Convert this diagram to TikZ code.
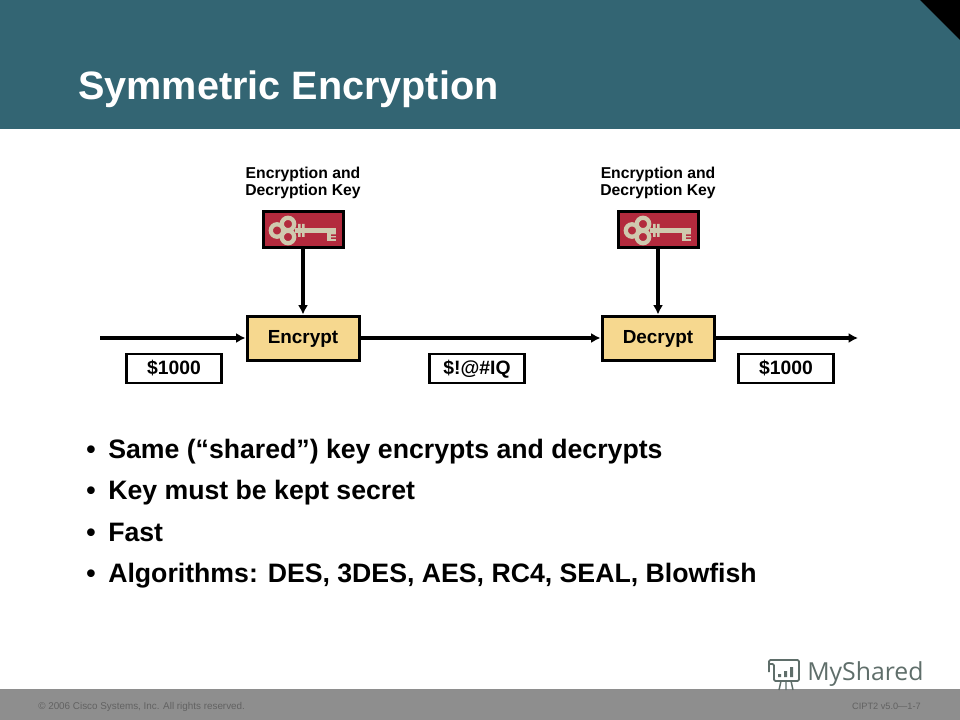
\documentclass[tikz,border=0pt]{standalone}
\usepackage{fontspec}
\setmainfont{Liberation Sans}
\newfontfamily\logofont{Open Sans}
\usetikzlibrary{arrows.meta}
\definecolor{headerteal}{HTML}{336573}
\definecolor{footergray}{HTML}{8E8E8E}
\definecolor{footertext}{HTML}{626262}
\definecolor{keyred}{HTML}{B32A3D}
\definecolor{keytan}{HTML}{CFC9AE}
\definecolor{boxtan}{HTML}{F6D88F}
\definecolor{logogray}{HTML}{5F6E6A}
\tikzset{
	cipherbox/.style={draw=black, line width=2.25pt, fill=boxtan, minimum width=84pt, minimum height=33pt, inner sep=0pt, text height=10pt, text depth=2.2pt, font=\fontsize{14.2}{16}\bfseries},
	keybox/.style={draw=black, line width=2.25pt, fill=keyred, minimum width=60pt, minimum height=27pt, inner sep=0pt},
	valuebox/.style={draw=black, line width=1.9pt, fill=white, minimum width=71pt, minimum height=21.5pt, inner sep=0pt, text height=10pt, text depth=1.2pt, font=\fontsize{14.5}{16}\bfseries},
	keylabel/.style={align=center, inner sep=0pt, font=\fontsize{11.8}{12.75}\bfseries},
	bullet/.style={anchor=west, inner sep=0pt, text height=15pt, text depth=4pt, font=\fontsize{20}{23}\bfseries},
	footer/.style={inner sep=0pt, text=footertext},
	flow/.style={line width=2.3pt, -{Latex[length=7pt,width=7.5pt]}},
	keyicon/.pic={
		\draw[keytan, line width=3.2pt] (-15,-6) circle (6.2) (-15,7) circle (6.2) (-26,0.5) circle (6.2);
		\fill[keytan] (-8,-2) rectangle (33,3);
		\fill[keytan] (-5,-6) rectangle (-2.5,7) (-1,-6) rectangle (1.5,7);
		\fill[keytan] (24,2) rectangle (33,11);
		\fill[keyred] (28,4.5) rectangle (33,6) (28,7.5) rectangle (33,9);
	}
}
\begin{document}
\begin{tikzpicture}[x=0.75pt, y=-0.75pt]
	\useasboundingbox (0,0) rectangle (960,720);
	\fill[white] (0,0) rectangle (960,720);
	\fill[headerteal] (0,0) rectangle (960,129);
	\fill[black] (920,0) -- (960,40) -- (960,0) -- cycle;
	\fill[footergray] (0,689) rectangle (960,720);
	\node[anchor=west, inner sep=0pt, text=white, font=\fontsize{29.7}{32}\bfseries] (title) at (78,89) {Symmetric Encryption};
	\node[keylabel] (leftlabel) at (303,183) {Encryption and\\Decryption Key};
	\node[keylabel] (rightlabel) at (658,183) {Encryption and\\Decryption Key};
	\node[keybox] (leftkey) at (303,230) {};
	\node[keybox] (rightkey) at (658,230) {};
	\pic at (303,230) {keyicon};
	\pic at (658,230) {keyicon};
	\node[cipherbox] (encrypt) at (303,338) {Encrypt};
	\node[cipherbox] (decrypt) at (658,338) {Decrypt};
	\coordinate (input) at (100,338);
	\coordinate (output) at (858,338);
	\draw[flow] (leftkey) -- (encrypt);
	\draw[flow] (rightkey) -- (decrypt);
	\draw[flow] (input) -- (encrypt);
	\draw[flow] (encrypt) -- (decrypt);
	\draw[flow] (decrypt) -- (output);
	\node[valuebox] (plainleft) at (174,368.5) {\$1000};
	\node[valuebox] (cipher) at (477,368.5) {\$!@\#IQ};
	\node[valuebox] (plainright) at (786,368.5) {\$1000};
	\node[bullet] (same) at (108,451) {Same (“shared”) key encrypts and decrypts};
	\node[bullet] (secret) at (108,492) {Key must be kept secret};
	\node[bullet] (fast) at (108,534) {Fast};
	\node[bullet] (algos) at (108,575) {Algorithms: DES, 3DES, AES, RC4, SEAL, Blowfish};
	\foreach \name in {same,secret,fast,algos}
		\node[bullet, anchor=center] (dot\name) at ([xshift=-12.75pt]\name.west) {•};
	\node[footer, anchor=west, font=\fontsize{7.4}{8}\selectfont] (copyright) at (38,707) {© 2006 Cisco Systems, Inc. All rights reserved.};
	\node[footer, anchor=east, font=\fontsize{6.9}{8}\selectfont] (course) at (921,706) {CIPT2 v5.0—1-7};
	% logo
	\node[anchor=west, inner sep=0pt, text=logogray, font=\fontsize{18.6}{22}\logofont] (logo) at (807,674) {MyShared};
	\draw[logogray, line width=1.3pt, rounded corners=1pt] (769,672) -- (769,660) -- (799,660) -- (799,681) -- (774,681) -- (774,664) -- (769,664);
	\fill[logogray] (778,674) rectangle (781,677) (784,671) rectangle (787,677) (790,667) rectangle (793,677);
	\draw[logogray, line width=1.1pt] (781,681) -- (779,690) (786,681) -- (786,690) (791,681) -- (793,690);
\end{tikzpicture}
\end{document}
